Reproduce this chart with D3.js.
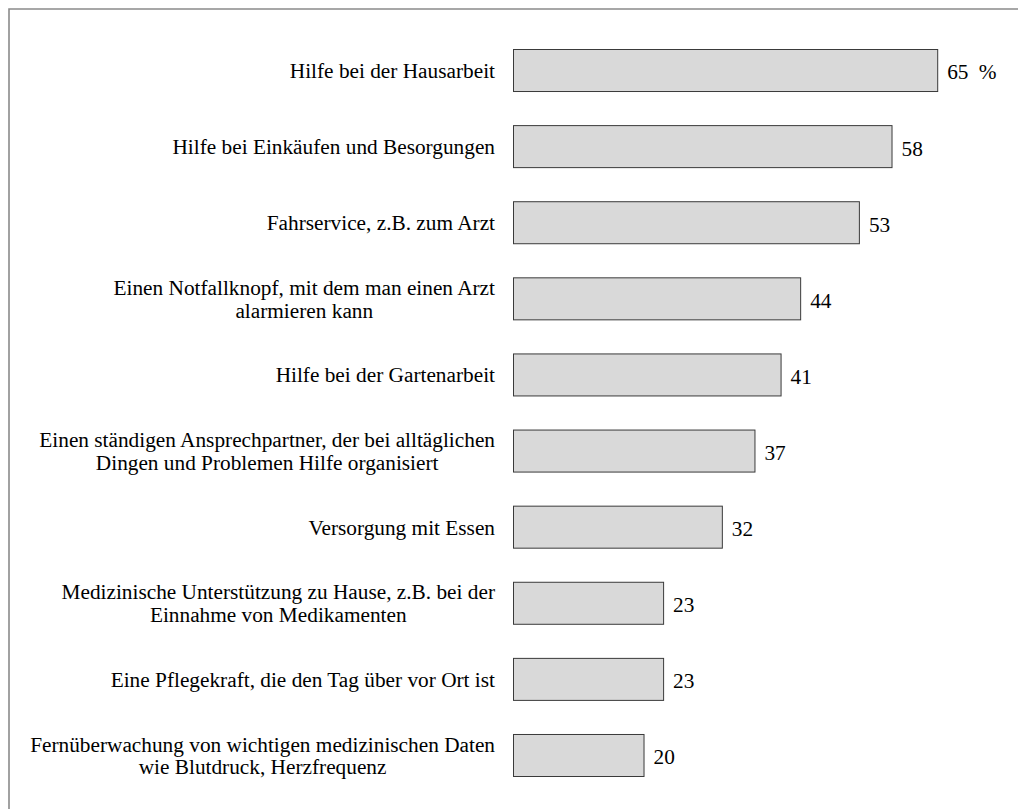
<!DOCTYPE html>
<html>
<head>
<meta charset="utf-8">
<script src="https://cdn.jsdelivr.net/npm/d3@7"></script>
<style>
  html, body { margin: 0; padding: 0; background: #fff; }
  svg { display: block; }
</style>
</head>
<body>
<svg id="chart" width="1018" height="809"></svg>
<script>
const categories = [
  ["Hilfe bei der Hausarbeit"],
  ["Hilfe bei Eink\u00e4ufen und Besorgungen"],
  ["Fahrservice, z.B. zum Arzt"],
  ["Einen Notfallknopf, mit dem man einen Arzt", "alarmieren kann"],
  ["Hilfe bei der Gartenarbeit"],
  ["Einen st\u00e4ndigen Ansprechpartner, der bei allt\u00e4glichen", "Dingen und Problemen Hilfe organisiert"],
  ["Versorgung mit Essen"],
  ["Medizinische Unterst\u00fctzung zu Hause, z.B. bei der", "Einnahme von Medikamenten"],
  ["Eine Pflegekraft, die den Tag \u00fcber vor Ort ist"],
  ["Fern\u00fcberwachung von wichtigen medizinischen Daten", "wie Blutdruck, Herzfrequenz"]
];
const values = [65, 58, 53, 44, 41, 37, 32, 23, 23, 20];
const unitLabel = "%";

const FONT = "Liberation Serif";
const FS = 21.3;

const svg = d3.select("#chart");
const keys = categories.map((c, i) => i);

// frame
svg.append("path")
  .attr("d", "M9,820 L9,9 L1030,9")
  .attr("fill", "none")
  .attr("stroke", "#8a8a8a")
  .attr("stroke-width", 1.6);

const x = d3.scaleLinear().domain([0, 65]).range([513.5, 937.7]);
const y = d3.scaleBand().domain(keys).range([49, 776]).paddingInner(0.448).paddingOuter(0);

const g = svg.append("g");

g.selectAll("rect.bar")
  .data(values)
  .join("rect")
  .attr("class", "bar")
  .attr("x", x(0))
  .attr("y", (d, i) => y(i) + 0.5)
  .attr("width", d => x(d) - x(0))
  .attr("height", y.bandwidth())
  .attr("fill", "#d9d9d9")
  .attr("stroke", "#3a3a3a")
  .attr("stroke-width", 1);

// value labels
values.forEach((d, i) => {
  svg.append("text")
    .attr("x", x(d) + 9.5)
    .attr("y", y(i) + y.bandwidth() / 2 + 2)
    .attr("dy", "0.35em")
    .attr("font-size", FS)
    .style("font-family", FONT)
    .text(d);
});

svg.append("text")
  .attr("x", x(values[0]) + 41)
  .attr("y", y(0) + y.bandwidth() / 2 + 2)
  .attr("dy", "0.35em")
  .attr("font-size", FS)
  .style("font-family", FONT)
  .text(unitLabel);

// category labels
const labelRight = 495;
const lineH = 22.8;
categories.forEach((lines, i) => {
  const cy = y(i) + y.bandwidth() / 2 + 0.5;
  const texts = lines.map((ln, k) => svg.append("text")
    .attr("font-size", FS)
    .style("font-family", FONT)
    .attr("text-anchor", "middle")
    .attr("y", cy + (k - (lines.length - 1) / 2) * lineH)
    .attr("dy", "0.35em")
    .text(ln));
  const maxW = d3.max(texts, t => t.node().getComputedTextLength());
  texts.forEach(t => t.attr("x", labelRight - maxW / 2));
});
</script>
</body>
</html>
